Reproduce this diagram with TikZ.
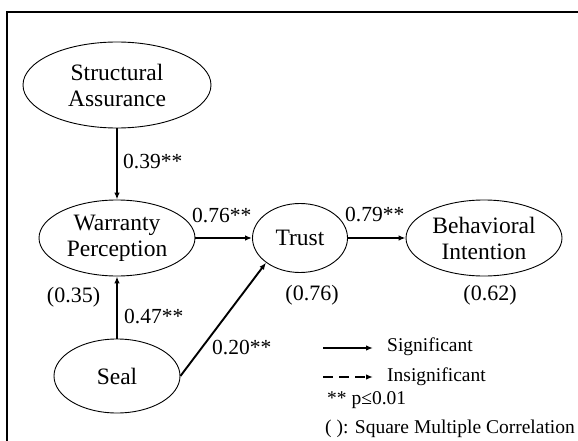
\documentclass[tikz,border=0pt]{standalone}
\usepackage{fontspec}
\setmainfont{Liberation Serif}
\usetikzlibrary{shapes.geometric,arrows.meta}
\begin{document}
\begin{tikzpicture}[x=1pt,y=-1pt,
  construct/.style={draw,ellipse,inner sep=0pt,line width=0.9pt,align=center,
    font=\fontsize{23.5}{26}\selectfont},
  path/.style={line width=1.6pt,-{Latex[length=7pt,width=5.5pt]}},
  coef/.style={anchor=west,inner sep=0pt,font=\fontsize{21.5}{24}\selectfont},
  smc/.style={inner sep=0pt,font=\fontsize{22}{24}\selectfont},
  legtext/.style={anchor=west,inner sep=0pt,font=\fontsize{19.5}{22}\selectfont}]
\useasboundingbox (0,0) rectangle (578,441);
\fill[white] (0,0) rectangle (578,441);
\draw[line width=2.5pt] (7,441) -- (7,12) -- (578,12);

\node[construct,minimum width=188pt,minimum height=86pt] (sa) at (117,85) {Structural\\Assurance};
\node[construct,minimum width=156pt,minimum height=76pt] (wp) at (117,238) {Warranty\\Perception};
\node[construct,minimum width=95pt,minimum height=69pt] (tr) at (300,238) {Trust};
\node[construct,minimum width=156pt,minimum height=76pt] (bi) at (484,238) {Behavioral\\Intention};
\node[construct,minimum width=126pt,minimum height=74pt] (seal) at (117,376) {Seal};

\draw[path] (sa) -- (wp);
\draw[path] (wp) -- (tr);
\draw[path] (tr) -- (bi);
\draw[path] (seal) -- (wp);
\draw[path,line width=1.9pt] (seal.east) -- (tr.216);

\node[coef] (l1) at (123,162) {0.39**};
\node[coef] (l2) at (192,216) {0.76**};
\node[coef] (l3) at (345,215) {0.79**};
\node[coef] (l4) at (124,317) {0.47**};
\node[coef] (l5) at (212,348) {0.20**};

\node[smc] (r1) at (73.5,297) {(0.35)};
\node[smc] (r2) at (312,295) {(0.76)};
\node[smc] (r3) at (490,295) {(0.62)};

\coordinate (s1) at (323,348);
\coordinate (s2) at (373,348);
\coordinate (d1) at (323,377);
\coordinate (d2) at (373,377);
\draw[line width=2pt,-{Latex[length=7pt,width=5.5pt]}] (s1) -- (s2);
\draw[line width=2pt,dash pattern=on 10pt off 6pt,-{Latex[length=7pt,width=5.5pt]}] (d1) -- (d2);
\node[legtext] (t1) at (387,347) {Significant};
\node[legtext] (t2) at (387,377) {Insignificant};
\node[legtext] (t3) at (327,400) {** p≤0.01};
\node[legtext] (t4) at (325,429) {( ): Square Multiple Correlation};
\end{tikzpicture}
\end{document}
